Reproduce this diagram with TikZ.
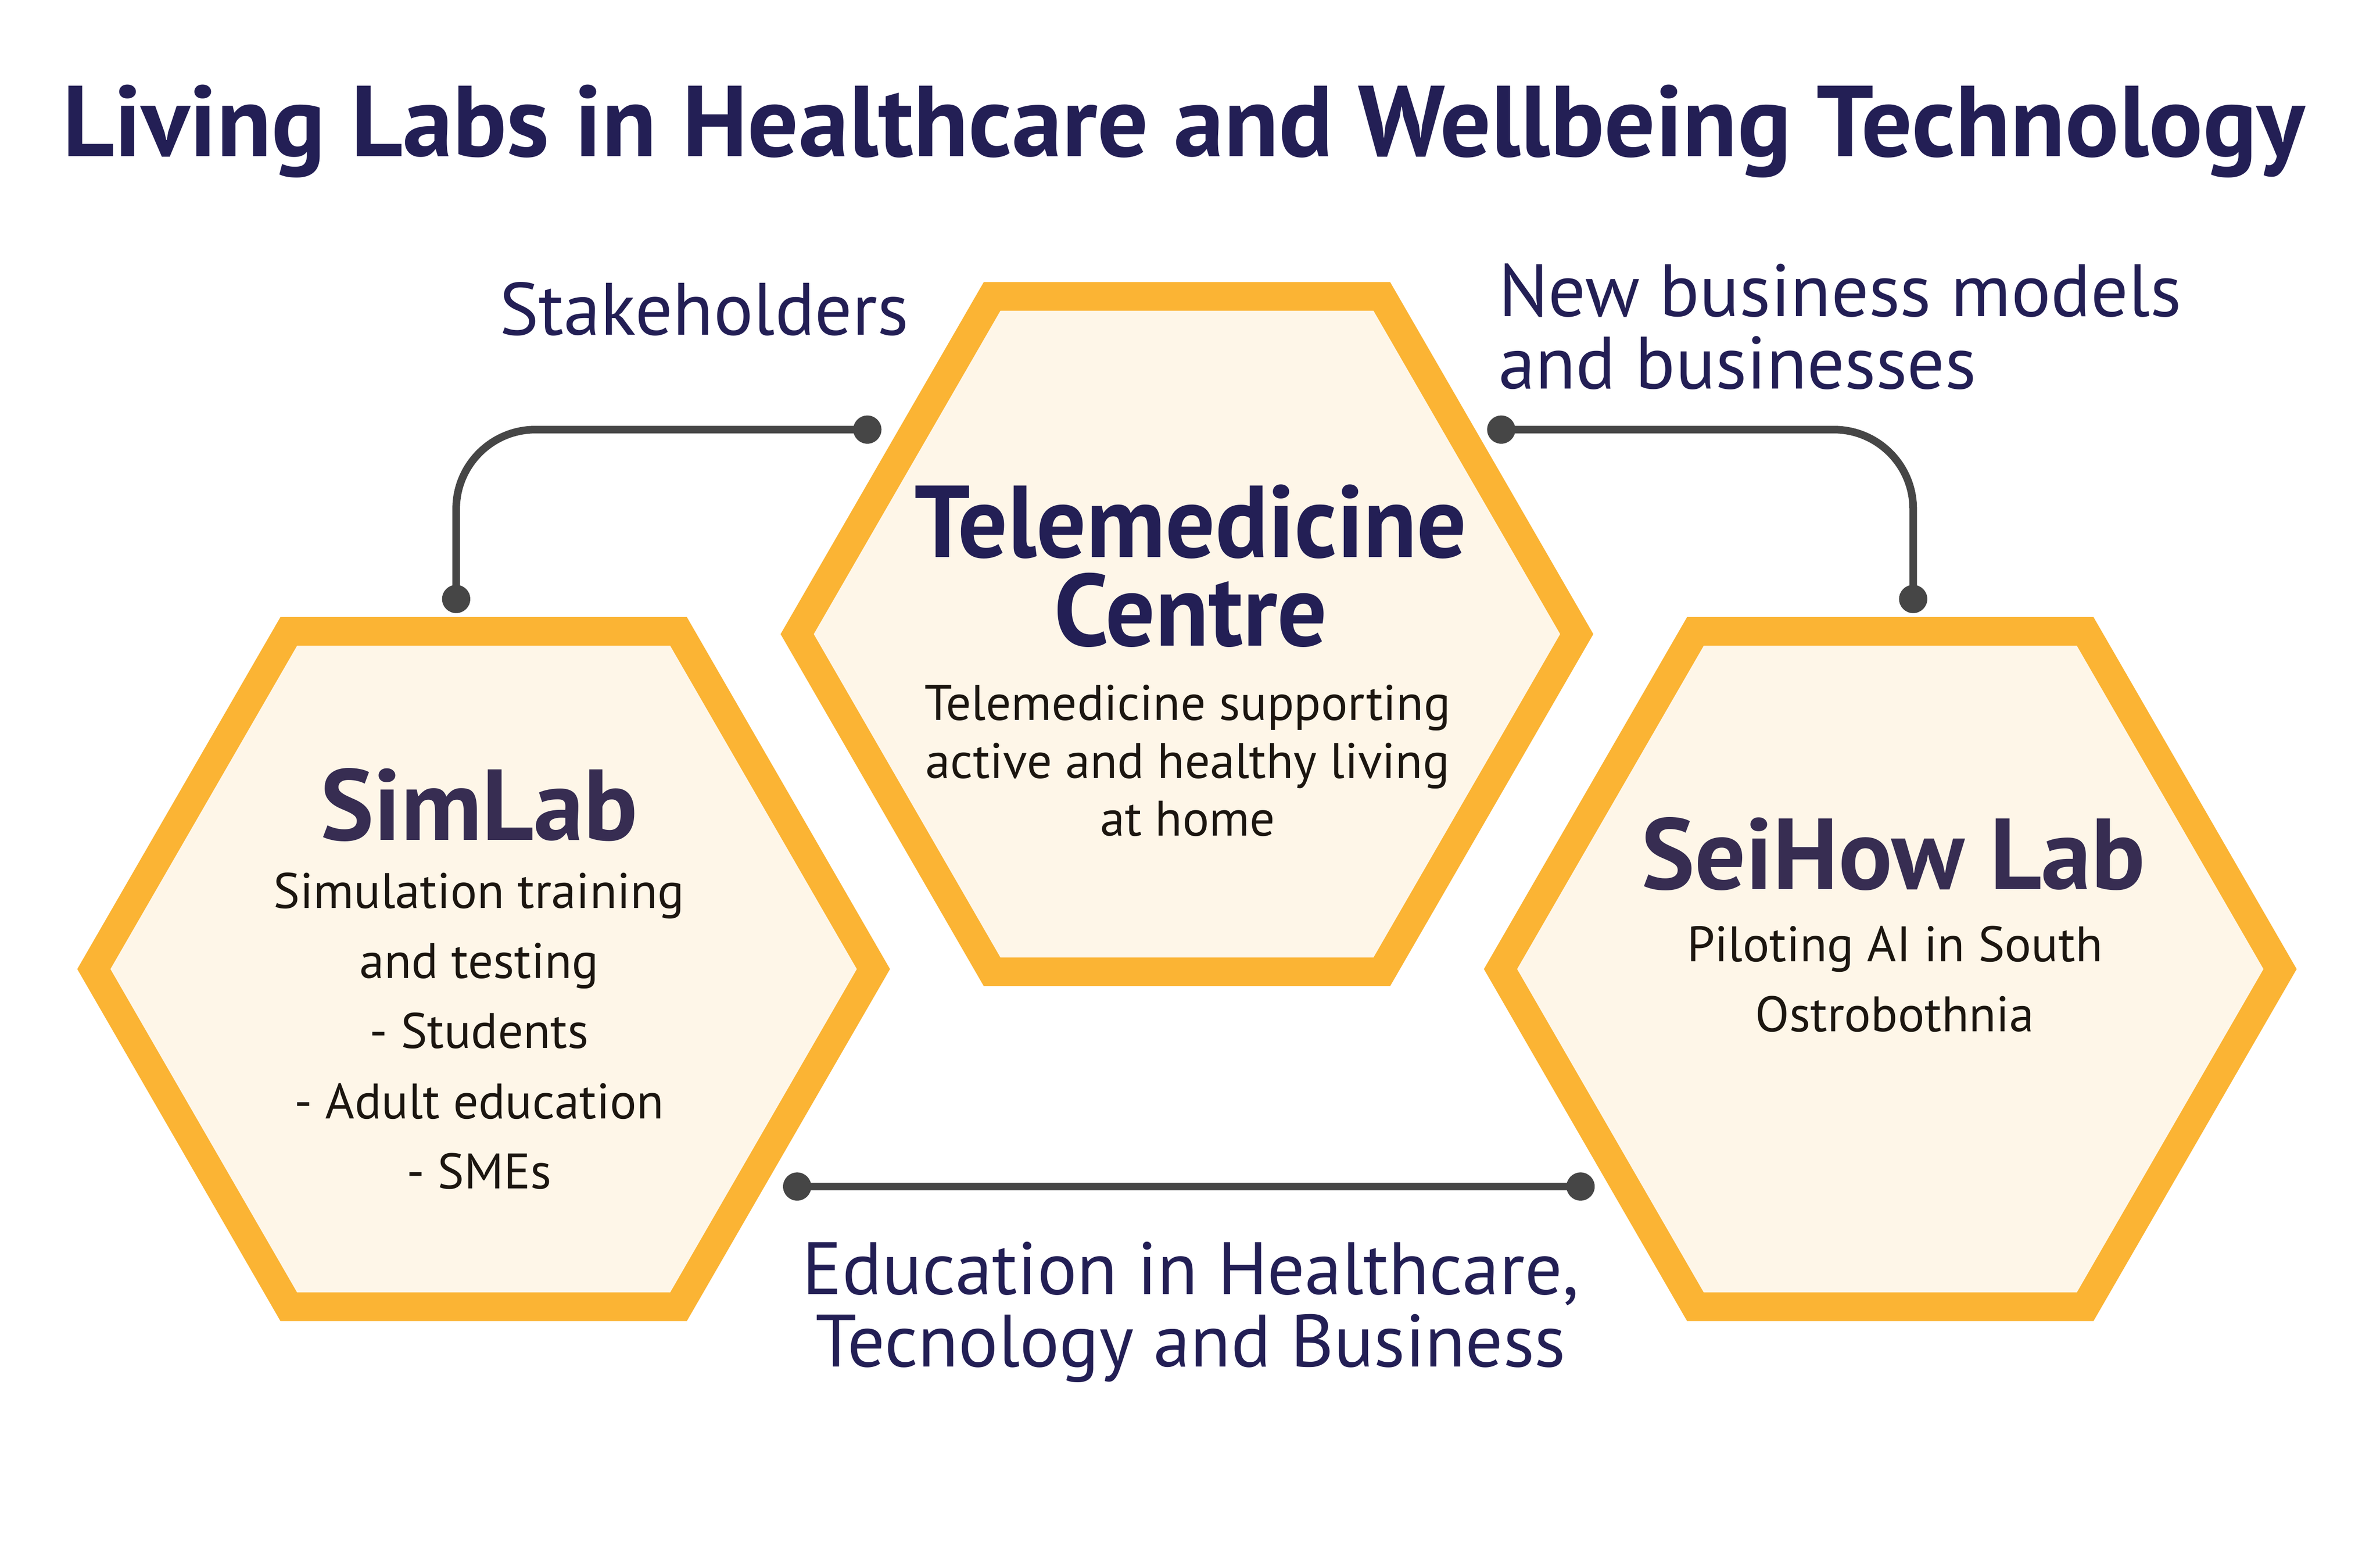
\documentclass[tikz,border=0pt]{standalone}
\usepackage{fontspec}
\newfontfamily\labfont{PT Sans}
\newfontfamily\centrefont[FakeStretch=0.96]{PT Sans}
\usetikzlibrary{shapes.geometric}
\definecolor{navy}{HTML}{231F55}
\definecolor{plum}{HTML}{372D52}
\definecolor{ink}{HTML}{1C1610}
\definecolor{hexedge}{HTML}{FBB434}
\definecolor{hexfill}{HTML}{FEF6E8}
\definecolor{linkgray}{HTML}{464646}

\begin{document}
\begin{tikzpicture}[x=1pt,y=-1pt,
    hexa/.style={regular polygon,regular polygon sides=6,minimum size=511pt,inner sep=0pt,outer sep=0pt,
      draw=hexedge,fill=hexfill,line width=18.8pt},
    dot/.style={circle,fill=linkgray,inner sep=0pt,minimum size=18.5pt},
    link/.style={draw=linkgray,line width=5pt,rounded corners=52pt},
    every node/.append style={inner sep=0pt},
    title/.style={font=\labfont\bfseries\fontsize{66}{70}\selectfont,text=navy},
    side/.style={font=\labfont\fontsize{48.6}{47.5}\selectfont,text=navy,align=center},
    centrename/.style={font=\centrefont\bfseries\fontsize{67}{58}\selectfont,text=navy,align=center},
    labname/.style={font=\labfont\bfseries\fontsize{66}{64}\selectfont,text=plum},
    body/.style={font=\labfont\fontsize{32.7}{46}\selectfont,text=ink,align=center}]
  \useasboundingbox (0,0) rectangle (1560,1013);

  % heading
  \node[title,anchor=base] (title) at (776,102.5) {Living Labs in Healthcare and Wellbeing Technology};

  % the three labs
  \node[hexa] (tele) at (778,415.5) {};
  \node[hexa] (sim) at (317,635) {};
  \node[hexa] (sei) at (1239,635) {};

  \node[centrename,anchor=north] (telename) at (780.5,317.5) {Telemedicine\\Centre};
  \node[body,anchor=north,font=\labfont\fontsize{32.7}{38}\selectfont] (teledesc) at (778.5,448.5)
    {Telemedicine supporting\\active and healthy living\\at home};

  \node[labname,anchor=base] (simname) at (314,550.5) {SimLab};
  \node[body,anchor=north] (simdesc) at (314,571.5)
    {Simulation training\\and testing\\- Students\\- Adult education\\- SMEs};

  \node[labname,anchor=base] (seiname) at (1241,582.5) {SeiHow Lab};
  \node[body,anchor=north] (seidesc) at (1242,606.5) {Piloting AI in South\\Ostrobothnia};

  % connectors
  \node[dot] (stakeA) at (568.5,281.5) {};
  \node[dot] (stakeB) at (299,392.5) {};
  \node[dot] (bizA) at (984,281.5) {};
  \node[dot] (bizB) at (1254,392.5) {};
  \node[dot] (eduA) at (522.5,777.5) {};
  \node[dot] (eduB) at (1036,777.5) {};
  \draw[link] (stakeA.center) -| (stakeB.center);
  \draw[link] (bizA.center) -| (bizB.center);
  \draw[link] (eduA.center) -- (eduB.center);

  \node[side,anchor=base] (stake) at (461.5,219.5) {Stakeholders};
  \node[side,anchor=north west,align=left] (biz) at (982,172.5) {New business models\\and businesses};
  \node[side,anchor=north] (edu) at (780.5,813.5) {Education in Healthcare,\\Tecnology and Business};
\end{tikzpicture}
\end{document}
